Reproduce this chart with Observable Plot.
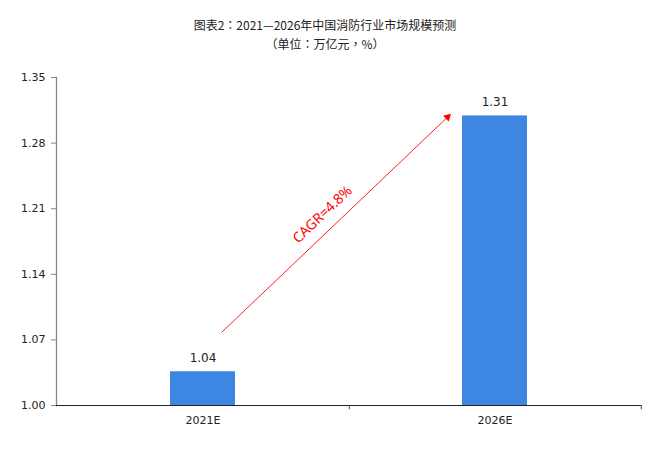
<!DOCTYPE html>
<html><head><meta charset="utf-8">
<script src="https://cdn.jsdelivr.net/npm/d3@7"></script>
<script src="https://cdn.jsdelivr.net/npm/@observablehq/plot@0.6"></script>
<style>
body{margin:0;background:#fff;}
#title{height:55px;box-sizing:border-box;padding-top:15px;text-align:center;font-family:"Noto Sans CJK TC";font-size:12px;color:#222;line-height:19px}
#chart svg{display:block}
</style></head><body>
<div id="title"><div>图表2：2021—2026年中国消防行业市场规模预测</div><div>（单位：万亿元，%）</div></div>
<div id="chart"></div>
<script>
// data
const categories = ["2021E", "2026E"];
const values = [1.036, 1.309];
const valueLabels = ["1.04", "1.31"];
const yTicks = [1.00, 1.07, 1.14, 1.21, 1.28, 1.35];
const years = 5;
// CAGR annotation anchors (category, value)
const arrowFrom = {x: "2021E", y: 1.0591};
const arrowTo = {x: "2026E", y: 1.356};
const arrowHead = {x: "2026E", y: 1.3078};
const cagrLabelPos = {x: "2021E", y: 1.2027};

const W = 650, H = 414, mL = 56, mR = 9, mT = 22, mB = 64;
const step = (W - mL - mR) / categories.length;
const bars = categories.map((c, i) => ({cat: c, value: values[i], label: valueLabels[i]}));
const cagr = (Math.pow(values[1] / values[0], 1 / years) - 1) * 100;
const cagrText = "CAGR=" + cagr.toFixed(1) + "%";
const angle = Math.atan2(218.2, 229) * 180 / Math.PI; // slope of growth arrow

const chart = Plot.plot({
  width: W, height: H,
  marginLeft: mL, marginRight: mR, marginTop: mT, marginBottom: mB,
  style: {fontFamily: "DejaVu Sans", fontSize: "11px", background: "#fff", overflow: "visible"},
  x: {domain: categories, paddingInner: 0.778, paddingOuter: 0.389, label: null},
  y: {domain: [1.0, 1.35], label: null},
  marks: [
    Plot.barY(bars, {x: "cat", y1: 1.0, y2: "value", fill: "#3d86e1"}),
    Plot.frame({anchor: "left", stroke: "#888", strokeWidth: 1.3}),
    Plot.axisY({ticks: yTicks, tickFormat: d => d.toFixed(2), tickSize: 5, tickPadding: 6, stroke: "#888", fill: "#222", fontSize: 11}),
    Plot.ruleY([1.0], {stroke: "#222", strokeWidth: 1.2}),
    Plot.ruleX(categories, {x: d => d, dx: step / 2, y1: 1.0, y2: 0.9955, stroke: "#444", clip: false}),
    Plot.axisX({tickSize: 0, tickPadding: 11, fill: "#222", fontSize: 11}),
    Plot.text(bars, {x: "cat", y: "value", text: "label", dy: -14, fill: "#222", fontSize: 12}),
    Plot.arrow([0], {x1: () => arrowFrom.x, y1: () => arrowFrom.y, x2: () => arrowTo.x, y2: () => arrowTo.y,
      insetStart: 26.2, insetEnd: 64, headLength: 0, stroke: "#ff2020", strokeWidth: 1, bend: 0}),
    Plot.dot([arrowHead], {x: "x", y: "y", dx: -47.4, symbol: "triangle", r: 3, fill: "red", stroke: "none", rotate: 90 - angle}),
    Plot.text([cagrLabelPos], {x: "x", y: "y", dx: 119.5, dy: -1, text: () => cagrText, rotate: -angle, fill: "red", fontSize: 14, fontFamily: "Noto Sans"})
  ]
});
document.getElementById("chart").append(chart);
</script>
</body></html>
